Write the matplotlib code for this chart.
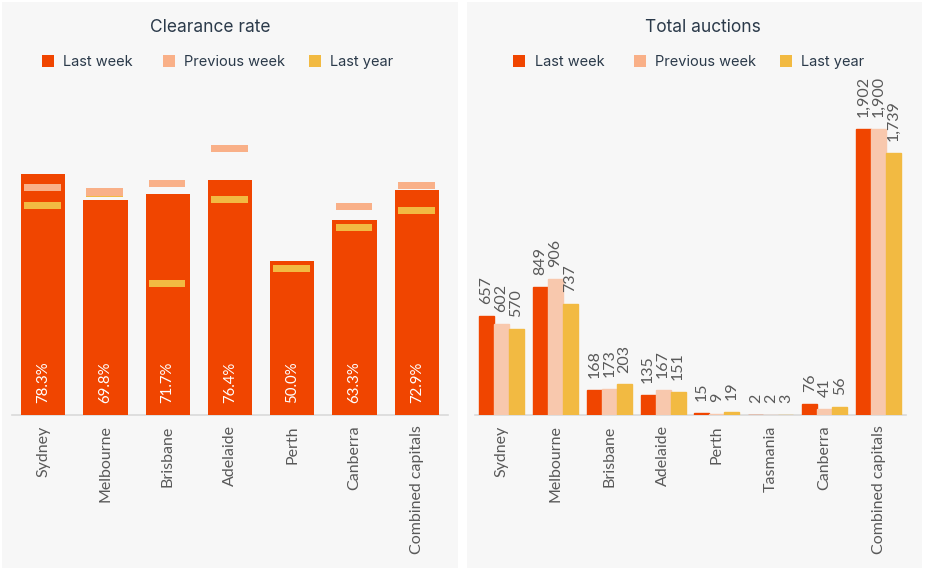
import matplotlib
matplotlib.use("Agg")
import matplotlib.pyplot as plt
from matplotlib.patches import Rectangle
import numpy as np

# ---------------- data ----------------
series = ["Last week", "Previous week", "Last year"]

cr_cities = ["Sydney", "Melbourne", "Brisbane", "Adelaide", "Perth", "Canberra", "Combined capitals"]
cr_last_week = [78.3, 69.8, 71.7, 76.4, 50.0, 63.3, 72.9]
cr_prev_week = [73.9, 72.4, 75.2, 86.6, np.nan, 67.7, 74.6]
cr_last_year = [68.1, 71.9, 42.7, 70.0, 47.6, 60.9, 66.4]

ta_cities = ["Sydney", "Melbourne", "Brisbane", "Adelaide", "Perth", "Tasmania", "Canberra", "Combined capitals"]
ta_last_week = [657, 849, 168, 135, 15, 2, 76, 1902]
ta_prev_week = [602, 906, 173, 167, 9, 2, 41, 1900]
ta_last_year = [570, 737, 203, 151, 19, 3, 56, 1739]

# ---------------- style ----------------
C_LW = "#F04500"
C_PW = "#F9B088"
C_PW_BAR = "#F8C8AD"
C_LY = "#F2BA42"
PANEL = "#F7F7F7"
TXT = "#2B3A4A"
GRAY = "#595959"
LABEL_FONT = "Lato"
TITLE_FONT = "Inter"

W, H = 926, 574
fig = plt.figure(figsize=(W / 100, H / 100), dpi=100, facecolor="white")


def fx(x):
    return x / W


def fy(y):
    return 1 - y / H


# panels
for x0, x1 in [(2, 458), (467, 922)]:
    fig.add_artist(Rectangle((fx(x0), fy(568)), fx(x1 - x0), (568 - 2) / H,
                             transform=fig.transFigure, facecolor=PANEL,
                             edgecolor="none", zorder=0))


def header(title, cx, leg_sq_x, leg_txt_x):
    fig.text(fx(cx), fy(27), title, ha="center", va="center", fontsize=12.5,
             color=TXT, family=TITLE_FONT)
    cols = [C_LW, C_PW, C_LY]
    for sx, tx, c, lab in zip(leg_sq_x, leg_txt_x, cols, series):
        fig.add_artist(Rectangle((fx(sx), fy(67)), fx(12), 12 / H,
                                 transform=fig.transFigure, facecolor=c,
                                 edgecolor="none", zorder=2))
        fig.text(fx(tx), fy(62), lab, ha="left", va="center", fontsize=10.5,
                 color=TXT, family=TITLE_FONT)


header("Clearance rate", 210, [42, 163, 309], [63, 184, 330])
header("Total auctions", 703, [513, 634, 780], [535, 655, 801])


def style_axes(ax):
    ax.set_facecolor("none")
    for s in ["top", "left", "right"]:
        ax.spines[s].set_visible(False)
    ax.spines["bottom"].set_color("#D9D9D9")
    ax.spines["bottom"].set_linewidth(1.2)
    ax.spines["bottom"].set_zorder(1)
    ax.set_yticks([])
    ax.tick_params(axis="x", length=0, pad=7.5, labelsize=11.5, labelcolor=GRAY,
                   labelrotation=90)
    for t in ax.get_xticklabels():
        t.set_family(LABEL_FONT)


# ---------------- left: clearance rate ----------------
axL = fig.add_axes([fx(12), 1 - 415 / H, fx(436), 308 / H])
x = np.arange(len(cr_cities))
axL.bar(x, cr_last_week, width=0.71, color=C_LW, zorder=2)
mh = 2.3
ly = np.array(cr_last_year)
pw = np.array(cr_prev_week)
axL.bar(x - 0.01, np.full(len(x), mh), bottom=ly - mh / 2, width=0.59, color=C_LY, zorder=3)
axL.bar(x - 0.01, np.full(len(x), mh), bottom=pw - mh / 2, width=0.59, color=C_PW, zorder=4)
axL.set_xlim(-0.5, len(x) - 0.5)
axL.set_ylim(0, 100)
axL.set_xticks(x)
axL.set_xticklabels(cr_cities)
style_axes(axL)
for xi, v in zip(x, cr_last_week):
    axL.annotate(f"{v:.1f}%", (xi, 0), xytext=(0, 8.3), textcoords="offset points",
                 rotation=90, ha="center", va="bottom", color="white",
                 fontsize=10.8, family=LABEL_FONT, zorder=5)

# ---------------- right: total auctions ----------------
axR = fig.add_axes([fx(474.5), 1 - 415 / H, fx(431), 301 / H])
x2 = np.arange(len(ta_cities))
bw = 0.278
vals = [ta_last_week, ta_prev_week, ta_last_year]
cols = [C_LW, C_PW_BAR, C_LY]
for i, (vv, c) in enumerate(zip(vals, cols)):
    pos = x2 + (i - 1) * bw
    axR.bar(pos, vv, width=bw, color=c, edgecolor=c, linewidth=1.0, zorder=2)
    for p, v in zip(pos, vv):
        axR.annotate(f"{v:,}", (p, v), xytext=(0, 8.6), textcoords="offset points",
                     rotation=90, ha="center", va="bottom", color=GRAY,
                     fontsize=11.5, family=LABEL_FONT)
axR.set_xlim(-0.5, len(x2) - 0.5)
axR.set_ylim(0, 2000)
axR.set_xticks(x2)
axR.set_xticklabels(ta_cities)
style_axes(axR)

fig.savefig("out.png", dpi=100, facecolor="white")
